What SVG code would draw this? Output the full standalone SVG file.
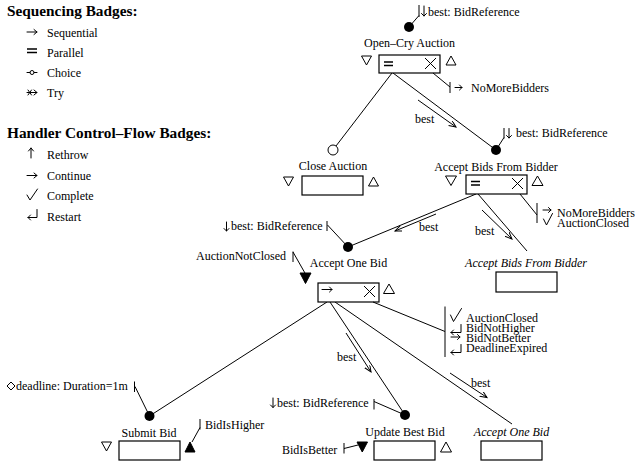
<svg xmlns="http://www.w3.org/2000/svg" width="635" height="466" viewBox="0 0 635 466">
<defs>
<style>
.t{font-family:"Liberation Serif","Times New Roman",serif;font-size:12px;fill:#000}
.m{text-anchor:middle}
.i{font-style:italic}
.h{font-family:"Liberation Serif","Times New Roman",serif;font-size:15.3px;font-weight:bold;fill:#000}
.ln{stroke:#000;stroke-width:1;fill:none}
.ic{stroke:#000;stroke-width:1;fill:none;stroke-linecap:round;stroke-linejoin:round}
.box{fill:#fff;stroke:#000;stroke-width:1.2}
.tri{fill:#fff;stroke:#000;stroke-width:1}
.ftri{fill:#000;stroke:#000;stroke-width:1}
.dot{fill:#000}
.odot{fill:#fff;stroke:#000;stroke-width:1}
</style>
<marker id="ah" markerWidth="9" markerHeight="8" refX="7" refY="3" orient="auto" markerUnits="userSpaceOnUse">
<path d="M0,0 L7,3 L0,6" fill="none" stroke="#000" stroke-width="1"/>
</marker>
</defs>
<rect width="635" height="466" fill="#fff"/>

<g id="legend">
<text class="h" x="7" y="16">Sequencing Badges:</text>
<path class="ic" d="M27,32 H37 M34,29.5 L37,32 L34,34.5"/>
<text class="t" x="47" y="36.5">Sequential</text>
<path d="M27,49 H37 M27,52.5 H37" stroke="#000" stroke-width="1.6"/>
<text class="t" x="47" y="56.5">Parallel</text>
<circle cx="32" cy="72.5" r="2" fill="none" stroke="#000"/>
<path class="ic" d="M27,72.5 H30 M34,72.5 H37"/>
<text class="t" x="47" y="76.5">Choice</text>
<path class="ic" d="M27,92.5 H37 M34,90 L37,92.5 L34,95 M28,90 L31.5,95 M31.5,90 L28,95"/>
<text class="t" x="47" y="96.5">Try</text>
<text class="h" x="7" y="138">Handler Control–Flow Badges:</text>
<path class="ic" d="M31,158 V148 M28.5,151 L31,148 L33.5,151"/>
<text class="t" x="47" y="158.5">Rethrow</text>
<path class="ic" d="M27,175.5 H37 M34,173 L37,175.5 L34,178"/>
<text class="t" x="47" y="179.5">Continue</text>
<path class="ic" d="M27,195 L30,200 L37.5,189"/>
<text class="t" x="47" y="200">Complete</text>
<path class="ic" d="M37,209.5 V217.5 H28 M30.5,215 L28,217.5 L30.5,220"/>
<text class="t" x="47" y="220.5">Restart</text>
</g>

<g id="connectors">
<path class="ln" d="M392,73 L336,146"/>
<path class="ln" d="M393,73 L496,150"/>
<path class="ln" d="M418,100 L456,127" marker-end="url(#ah)"/>
<path class="ln" d="M476,194 L348,247"/>
<path class="ln" d="M436,214 L395,231" marker-end="url(#ah)"/>
<path class="ln" d="M478,194 L527,251"/>
<path class="ln" d="M482,210 L512,239" marker-end="url(#ah)"/>
<path class="ln" d="M327,302 L149.5,416"/>
<path class="ln" d="M330,302 L405,415"/>
<path class="ln" d="M346,333 L371,372" marker-end="url(#ah)"/>
<path class="ln" d="M335,302 L512,424"/>
<path class="ln" d="M450,373 L487,397.5" marker-end="url(#ah)"/>
<text class="t" x="415" y="123">best</text>
<text class="t" x="419" y="231">best</text>
<text class="t" x="475" y="235">best</text>
<text class="t" x="337" y="361">best</text>
<text class="t" x="471" y="387">best</text>
</g>

<g id="open-cry-auction">
<path class="ln" d="M409,27 L419,15.5"/>
<circle class="dot" cx="409" cy="27" r="5"/>
<path class="ln" d="M419,5 V17"/>
<path class="ic" d="M424,6 V16 M421.5,13.5 L424,16 L426.5,13.5"/>
<text class="t" x="428" y="15.5">best: BidReference</text>
<text class="t m" x="409.5" y="46.5">Open–Cry Auction</text>
<path class="tri" d="M361.5,56 L371.5,56 L366.5,65 Z"/>
<rect class="box" x="379" y="55" width="61" height="18"/>
<path d="M384,62 H393 M384,65.5 H393" stroke="#000" stroke-width="1.3"/>
<path class="ln" d="M425,58 L436,69 M436,58 L425,69"/>
<path class="tri" d="M446,65 L456,65 L451,56 Z"/>
<path class="ln" d="M433,73 L450,87 M450,82 V93"/>
<path class="ic" d="M455,87.5 H462 M459.5,85 L462,87.5 L459.5,90"/>
<text class="t" x="471" y="91.5">NoMoreBidders</text>
</g>

<g id="close-auction">
<circle class="odot" cx="333" cy="150" r="5"/>
<text class="t m" x="333" y="170">Close Auction</text>
<path class="tri" d="M283.5,177 L293.5,177 L288.5,186 Z"/>
<rect class="box" x="302" y="176" width="61" height="19"/>
<path class="tri" d="M368.5,186 L378.5,186 L373.5,177 Z"/>
</g>

<g id="accept-bids-from-bidder">
<path class="ln" d="M496,150 L504,137.5"/>
<circle class="dot" cx="496" cy="150" r="5"/>
<path class="ln" d="M504,128 V138.5"/>
<path class="ic" d="M509,128.5 V138 M506.5,135.5 L509,138 L511.5,135.5"/>
<text class="t" x="516" y="136.5">best: BidReference</text>
<text class="t m" x="496" y="171">Accept Bids From Bidder</text>
<path class="tri" d="M445.5,176 L456.5,176 L451,185.5 Z"/>
<rect class="box" x="466" y="175" width="61" height="19"/>
<path d="M471,181.5 H480 M471,185 H480" stroke="#000" stroke-width="1.3"/>
<path class="ln" d="M512,178 L523,189 M523,178 L512,189"/>
<path class="tri" d="M532,185.5 L543,185.5 L537.5,176 Z"/>
<path class="ln" d="M520,194 L537,215 M537,203 V223"/>
<path class="ic" d="M543,210 H551 M548.5,207.5 L551,210 L548.5,212.5"/>
<path class="ic" d="M543.5,219 L546.5,225 L552.5,213.5"/>
<text class="t" x="557" y="216.5">NoMoreBidders</text>
<text class="t" x="557" y="226.5">AuctionClosed</text>
</g>

<g id="accept-bids-from-bidder-ref">
<text class="t m i" x="526" y="267">Accept Bids From Bidder</text>
<rect class="box" x="496" y="272" width="61" height="20"/>
</g>

<g id="accept-one-bid">
<path class="ic" d="M226.5,222 V231 M224,228.5 L226.5,231 L229,228.5"/>
<text class="t" x="231" y="229.5">best: BidReference</text>
<path class="ln" d="M327,221 V231 M327.5,225 L348,247"/>
<circle class="dot" cx="348" cy="247" r="5"/>
<text class="t" x="196" y="259.5">AuctionNotClosed</text>
<path class="ln" d="M293,251.5 V262 M293,252 L305.5,274"/>
<path class="ftri" d="M300,273 L311,273 L305.5,283.5 Z"/>
<text class="t m" x="348.5" y="267">Accept One Bid</text>
<rect class="box" x="318" y="283" width="61" height="19"/>
<path class="ic" d="M322,289.5 H332 M329.5,287 L332,289.5 L329.5,292"/>
<path class="ln" d="M364,286 L375,297 M375,286 L364,297"/>
<path class="tri" d="M383.5,293.5 L394.5,293.5 L389,284 Z"/>
<path class="ln" d="M373,302 L445,331.5 M445,306.5 V357"/>
<path class="ic" d="M450.5,315 L453.5,321.5 L461.5,308.5"/>
<path class="ic" d="M461,324.5 V332.5 H451 M453.5,330 L451,332.5 L453.5,335"/>
<path class="ic" d="M451,337 H460 M457.5,334.5 L460,337 L457.5,339.5"/>
<path class="ic" d="M461,344.5 V352.5 H451 M453.5,350 L451,352.5 L453.5,355"/>
<text class="t" x="466" y="321.5">AuctionClosed</text>
<text class="t" x="466" y="331.5">BidNotHigher</text>
<text class="t" x="466" y="341.5">BidNotBetter</text>
<text class="t" x="466" y="351.5">DeadlineExpired</text>
</g>

<g id="submit-bid">
<path class="ln" d="M7,386 L11,382 L15,386 L11,390 Z"/>
<text class="t" x="16" y="390">deadline: Duration=1m</text>
<path class="ln" d="M134.5,381.5 V392 M135,386.5 L149.5,416"/>
<circle class="dot" cx="149.5" cy="416" r="5"/>
<text class="t m" x="149" y="436.5">Submit Bid</text>
<path class="tri" d="M101.5,442 L111.5,442 L106.5,451 Z"/>
<rect class="box" x="119" y="441" width="61" height="19"/>
<path class="ftri" d="M185,452 L195,452 L190,442 Z"/>
<path class="ln" d="M200,419 V429.5 M200,427.5 L192,442"/>
<text class="t" x="205" y="429">BidIsHigher</text>
</g>

<g id="update-best-bid">
<path class="ic" d="M273,398 V407.5 M270.5,405 L273,407.5 L275.5,405"/>
<text class="t" x="277" y="407">best: BidReference</text>
<path class="ln" d="M374,399 V409.5 M374,401.5 L405,415"/>
<circle class="dot" cx="405" cy="415" r="5"/>
<text class="t m" x="405" y="436">Update Best Bid</text>
<path class="ftri" d="M357,442 L367.5,442 L362.25,452 Z"/>
<rect class="box" x="374" y="441" width="61" height="19"/>
<path class="tri" d="M440.5,452 L451.5,452 L446,442 Z"/>
<path class="ln" d="M344,443 V453.5 M344,448.5 L358,445"/>
<text class="t" x="282" y="453.5">BidIsBetter</text>
</g>

<g id="accept-one-bid-ref">
<text class="t m i" x="511.5" y="436">Accept One Bid</text>
<rect class="box" x="481" y="441" width="61" height="19"/>
</g>
</svg>
